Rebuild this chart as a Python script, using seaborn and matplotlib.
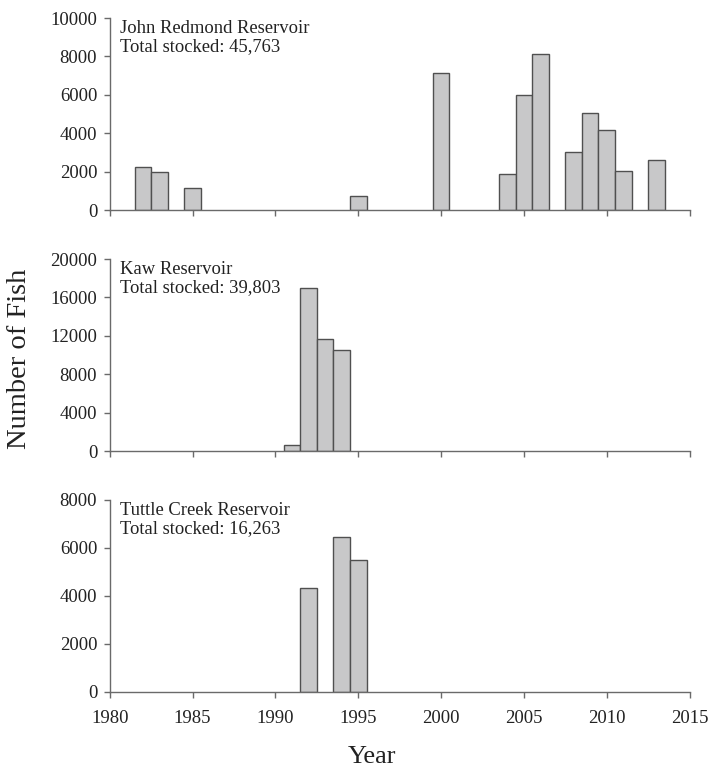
import matplotlib
matplotlib.use("Agg")
import matplotlib.pyplot as plt
import seaborn as sns
import pandas as pd

sns.set_style("ticks")
plt.rcParams['font.family'] = ['Liberation Serif', 'DejaVu Serif']

# data
redmond_years = [1982, 1983, 1985, 1995, 2000, 2004, 2005, 2006, 2008, 2009, 2010, 2011, 2013]
redmond_fish = [2255, 1995, 1146, 745, 7135, 1890, 6005, 8125, 3020, 5035, 4150, 2015, 2590]

kaw_years = [1991, 1992, 1993, 1994]
kaw_fish = [626, 17006, 11685, 10475]

tuttle_years = [1992, 1994, 1995]
tuttle_fish = [4318, 6448, 5480]

panels = [
    ("John Redmond Reservoir\nTotal stocked: 45,763", redmond_years, redmond_fish, [0, 2000, 4000, 6000, 8000, 10000]),
    ("Kaw Reservoir\nTotal stocked: 39,803", kaw_years, kaw_fish, [0, 4000, 8000, 12000, 16000, 20000]),
    ("Tuttle Creek Reservoir\nTotal stocked: 16,263", tuttle_years, tuttle_fish, [0, 2000, 4000, 6000, 8000]),
]

fig = plt.figure(figsize=(7.08, 7.71), dpi=100)
bottoms = [0.7276, 0.415, 0.1025]
spine_col = "#6a6a6a"
txt_col = "#222222"

for i, (label, yrs, vals, yt) in enumerate(panels):
    ax = fig.add_axes([0.155, bottoms[i], 0.819, 0.249])
    df = pd.DataFrame({"year": yrs, "fish": vals})
    sns.barplot(data=df, x="year", y="fish", native_scale=True, width=1,
                color="#c8c8c9", saturation=1, edgecolor="#505050",
                linewidth=1.0, ax=ax)
    ax.set_xlim(1980, 2015)
    ax.set_ylim(0, yt[-1])
    ax.set_yticks(yt)
    ax.set_xticks(range(1980, 2016, 5))
    ax.set_xlabel("")
    ax.set_ylabel("")
    sns.despine(ax=ax)
    for s in ["left", "bottom"]:
        ax.spines[s].set_color(spine_col)
        ax.spines[s].set_linewidth(1.0)
    ax.tick_params(axis="both", direction="out", length=4, width=1,
                   color=spine_col, labelsize=13.5, labelcolor=txt_col, pad=5)
    ax.tick_params(axis="x", pad=9)
    if i < 2:
        ax.set_xticklabels([])
    ax.text(0.017, 0.99, label, transform=ax.transAxes, va="top", ha="left",
            fontsize=13.4, color=txt_col, linespacing=1.1)

fig.text(0.027, 0.535, "Number of Fish", rotation=90, va="center", ha="center",
         fontsize=20.5, color=txt_col)
fig.text(0.525, 0.018, "Year", va="center", ha="center", fontsize=19, color=txt_col)

fig.savefig("out.png", dpi=100)
